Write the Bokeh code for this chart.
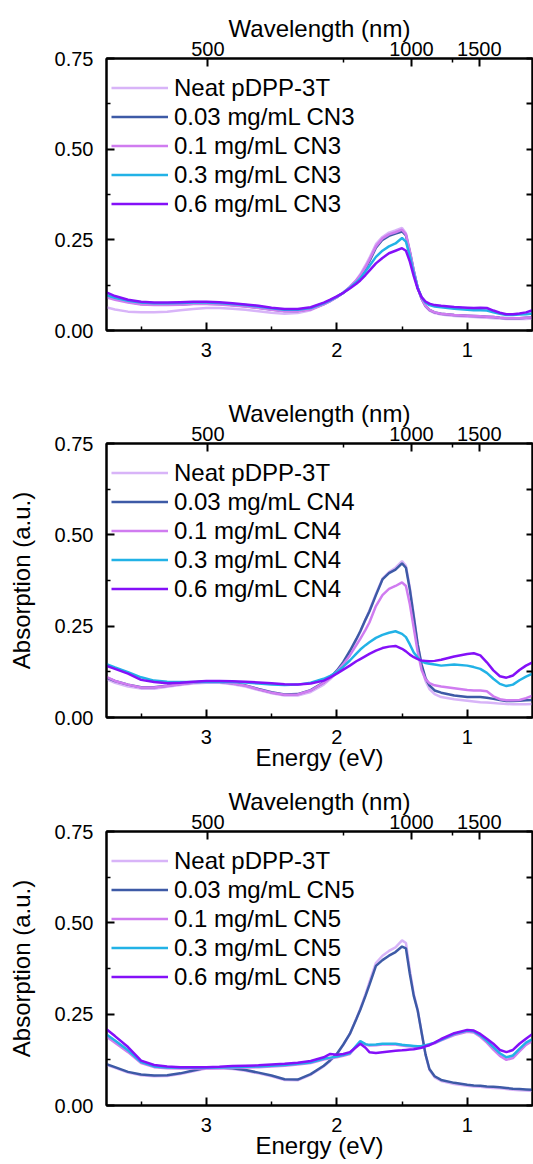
from bokeh.plotting import figure
from bokeh.layouts import column
from bokeh.models import Range1d, LinearAxis, FixedTicker, NumeralTickFormatter, Legend, LegendItem
from bokeh.embed import file_html
from bokeh.resources import INLINE

# ---------------- data ----------------
energy = [3.77, 3.7, 3.6, 3.5, 3.4, 3.3, 3.2, 3.1, 3.0,
          2.9, 2.8, 2.7, 2.6, 2.5, 2.4, 2.3, 2.2, 2.1,
          2.05, 2.0, 1.95, 1.9, 1.85, 1.82, 1.78, 1.75, 1.7,
          1.65, 1.6, 1.55, 1.5, 1.47, 1.44, 1.41, 1.38, 1.35,
          1.32, 1.29, 1.25, 1.2, 1.1, 1.0, 0.95, 0.9, 0.85,
          0.8, 0.75, 0.7, 0.65, 0.6, 0.55, 0.5]

labels_template = ["Neat pDPP-3T", "0.03 mg/mL {}", "0.1 mg/mL {}", "0.3 mg/mL {}", "0.6 mg/mL {}"]
additives = ["CN3", "CN4", "CN5"]
colors = ["#D8B4F8", "#3D5AA6", "#D07CF0", "#22B2E6", "#8410F8"]

cn3_neat = [0.064, 0.058, 0.052, 0.050, 0.050, 0.052, 0.056, 0.059, 0.062,
            0.062, 0.060, 0.057, 0.053, 0.049, 0.046, 0.048, 0.056, 0.072,
            0.081, 0.092, 0.104, 0.120, 0.140, 0.155, 0.180, 0.200, 0.238,
            0.258, 0.270, 0.276, 0.283, 0.268, 0.220, 0.165, 0.118, 0.088,
            0.066, 0.055, 0.048, 0.044, 0.040, 0.038, 0.037, 0.036, 0.035,
            0.034, 0.033, 0.032, 0.032, 0.032, 0.032, 0.033]
cn3_003 = [0.096, 0.088, 0.079, 0.073, 0.071, 0.071, 0.072, 0.074, 0.074,
           0.073, 0.070, 0.067, 0.063, 0.058, 0.054, 0.054, 0.059, 0.073,
           0.082, 0.092, 0.104, 0.119, 0.137, 0.150, 0.172, 0.191, 0.228,
           0.250, 0.261, 0.267, 0.273, 0.262, 0.216, 0.164, 0.118, 0.088,
           0.068, 0.057, 0.050, 0.046, 0.043, 0.041, 0.040, 0.039, 0.038,
           0.037, 0.035, 0.034, 0.034, 0.034, 0.035, 0.036]
cn3_01 = [0.092, 0.085, 0.077, 0.072, 0.070, 0.070, 0.071, 0.073, 0.073,
          0.072, 0.069, 0.066, 0.062, 0.057, 0.053, 0.053, 0.058, 0.072,
          0.081, 0.092, 0.104, 0.120, 0.138, 0.152, 0.175, 0.195, 0.232,
          0.254, 0.265, 0.271, 0.278, 0.265, 0.218, 0.165, 0.118, 0.088,
          0.068, 0.057, 0.050, 0.046, 0.043, 0.041, 0.040, 0.039, 0.038,
          0.037, 0.035, 0.034, 0.034, 0.034, 0.035, 0.036]
cn3_03 = [0.098, 0.090, 0.082, 0.077, 0.075, 0.075, 0.076, 0.077, 0.077,
          0.076, 0.073, 0.070, 0.066, 0.061, 0.057, 0.057, 0.062, 0.075,
          0.083, 0.093, 0.104, 0.118, 0.133, 0.144, 0.163, 0.178, 0.203,
          0.220, 0.232, 0.240, 0.255, 0.245, 0.205, 0.158, 0.118, 0.092,
          0.077, 0.070, 0.066, 0.064, 0.060, 0.057, 0.056, 0.056, 0.055,
          0.050, 0.046, 0.043, 0.043, 0.044, 0.045, 0.047]
cn3_06 = [0.106, 0.095, 0.085, 0.079, 0.077, 0.077, 0.078, 0.079, 0.079,
          0.078, 0.075, 0.072, 0.068, 0.063, 0.059, 0.059, 0.064, 0.077,
          0.085, 0.094, 0.104, 0.116, 0.129, 0.138, 0.153, 0.165, 0.185,
          0.200, 0.213, 0.220, 0.227, 0.220, 0.190, 0.150, 0.115, 0.092,
          0.080, 0.074, 0.070, 0.068, 0.065, 0.063, 0.062, 0.063, 0.062,
          0.055, 0.049, 0.045, 0.045, 0.047, 0.050, 0.056]

cn4_neat = [0.106, 0.095, 0.085, 0.079, 0.079, 0.084, 0.089, 0.093, 0.095,
            0.095, 0.091, 0.085, 0.075, 0.066, 0.060, 0.060, 0.070, 0.090,
            0.105, 0.122, 0.146, 0.176, 0.212, 0.234, 0.268, 0.293, 0.338,
            0.380, 0.398, 0.410, 0.428, 0.415, 0.355, 0.280, 0.200, 0.140,
            0.100, 0.078, 0.064, 0.056, 0.050, 0.046, 0.044, 0.042, 0.041,
            0.040, 0.038, 0.037, 0.036, 0.036, 0.036, 0.037]
cn4_003 = [0.110, 0.100, 0.090, 0.083, 0.083, 0.087, 0.092, 0.096, 0.099,
           0.098, 0.094, 0.088, 0.078, 0.069, 0.063, 0.064, 0.075, 0.096,
           0.110, 0.128, 0.152, 0.182, 0.215, 0.236, 0.268, 0.290, 0.335,
           0.378, 0.395, 0.405, 0.422, 0.410, 0.350, 0.275, 0.200, 0.145,
           0.108, 0.088, 0.074, 0.068, 0.060, 0.056, 0.056, 0.056, 0.054,
           0.051, 0.048, 0.045, 0.045, 0.046, 0.047, 0.048]
cn4_01 = [0.112, 0.100, 0.090, 0.082, 0.082, 0.086, 0.091, 0.095, 0.098,
          0.097, 0.093, 0.087, 0.077, 0.068, 0.062, 0.063, 0.074, 0.095,
          0.108, 0.125, 0.146, 0.170, 0.198, 0.215, 0.240, 0.260, 0.305,
          0.335, 0.352, 0.360, 0.370, 0.360, 0.310, 0.245, 0.180, 0.130,
          0.105, 0.094, 0.088, 0.085, 0.080, 0.075, 0.074, 0.074, 0.072,
          0.058, 0.050, 0.047, 0.047, 0.048, 0.053, 0.060]
cn4_03 = [0.147, 0.137, 0.124, 0.110, 0.101, 0.098, 0.097, 0.097, 0.097,
          0.097, 0.097, 0.096, 0.093, 0.090, 0.089, 0.090, 0.095, 0.106,
          0.114, 0.124, 0.139, 0.156, 0.175, 0.186, 0.198, 0.206, 0.218,
          0.226, 0.232, 0.236, 0.229, 0.220, 0.200, 0.178, 0.164, 0.154,
          0.149, 0.147, 0.145, 0.142, 0.145, 0.142, 0.138, 0.133, 0.122,
          0.106, 0.092, 0.086, 0.090, 0.102, 0.112, 0.120]
cn4_06 = [0.142, 0.133, 0.120, 0.103, 0.097, 0.094, 0.095, 0.098, 0.100,
          0.100, 0.099, 0.098, 0.096, 0.094, 0.091, 0.090, 0.093, 0.101,
          0.110, 0.120, 0.131, 0.142, 0.154, 0.160, 0.168, 0.174, 0.183,
          0.190, 0.194, 0.196, 0.188, 0.181, 0.172, 0.165, 0.160, 0.156,
          0.155, 0.154, 0.155, 0.158, 0.167, 0.174, 0.176, 0.170, 0.151,
          0.129, 0.113, 0.109, 0.115, 0.130, 0.142, 0.151]

cn5_neat = [0.112, 0.103, 0.090, 0.083, 0.080, 0.081, 0.086, 0.094, 0.101,
            0.102, 0.100, 0.095, 0.088, 0.080, 0.070, 0.069, 0.084, 0.107,
            0.122, 0.140, 0.166, 0.196, 0.238, 0.265, 0.305, 0.338, 0.390,
            0.410, 0.423, 0.433, 0.452, 0.445, 0.370, 0.305, 0.262, 0.200,
            0.140, 0.098, 0.077, 0.067, 0.059, 0.054, 0.052, 0.051, 0.049,
            0.048, 0.047, 0.045, 0.043, 0.042, 0.041, 0.040]
cn5_003 = [0.114, 0.105, 0.092, 0.085, 0.082, 0.083, 0.088, 0.096, 0.103,
           0.104, 0.102, 0.097, 0.090, 0.082, 0.072, 0.071, 0.086, 0.109,
           0.124, 0.141, 0.167, 0.196, 0.237, 0.262, 0.300, 0.330, 0.382,
           0.398, 0.410, 0.420, 0.435, 0.430, 0.360, 0.300, 0.260, 0.200,
           0.140, 0.100, 0.080, 0.070, 0.062, 0.057, 0.055, 0.054, 0.052,
           0.051, 0.050, 0.048, 0.046, 0.045, 0.044, 0.043]
cn5_01 = [0.190, 0.172, 0.146, 0.116, 0.105, 0.102, 0.101, 0.101, 0.101,
          0.102, 0.103, 0.104, 0.105, 0.107, 0.109, 0.112, 0.116, 0.126,
          0.129, 0.132, 0.136, 0.141, 0.162, 0.174, 0.167, 0.164, 0.165,
          0.167, 0.167, 0.167, 0.164, 0.163, 0.162, 0.161, 0.160, 0.161,
          0.163, 0.166, 0.170, 0.178, 0.193, 0.202, 0.200, 0.188, 0.172,
          0.153, 0.136, 0.125, 0.130, 0.148, 0.166, 0.177]
cn5_03 = [0.196, 0.178, 0.151, 0.119, 0.107, 0.104, 0.103, 0.103, 0.103,
          0.104, 0.105, 0.106, 0.107, 0.109, 0.111, 0.114, 0.118, 0.128,
          0.131, 0.134, 0.138, 0.143, 0.164, 0.176, 0.168, 0.166, 0.167,
          0.169, 0.169, 0.169, 0.166, 0.165, 0.164, 0.163, 0.162, 0.163,
          0.165, 0.168, 0.172, 0.180, 0.196, 0.205, 0.203, 0.192, 0.177,
          0.160, 0.143, 0.132, 0.137, 0.155, 0.172, 0.182]
cn5_06 = [0.210, 0.190, 0.160, 0.123, 0.111, 0.107, 0.105, 0.105, 0.105,
          0.106, 0.108, 0.109, 0.110, 0.112, 0.114, 0.117, 0.122, 0.132,
          0.141, 0.139, 0.141, 0.146, 0.160, 0.169, 0.158, 0.146, 0.144,
          0.146, 0.148, 0.150, 0.151, 0.152, 0.153, 0.154, 0.156, 0.158,
          0.162, 0.165, 0.172, 0.182, 0.198, 0.207, 0.205, 0.196, 0.183,
          0.169, 0.152, 0.146, 0.152, 0.169, 0.183, 0.196]

wl_major = [500, 1000, 1500]
wl_minor = [750, 1250]
energy_major = [1, 2, 3]
energy_minor = [1.5, 2.5, 3.5]
abs_major = [0.0, 0.25, 0.5, 0.75]
abs_minor = [0.125, 0.375, 0.625]

FONT = "Liberation Sans"


def wl_pos(w):
    # position of a wavelength tick on the (energy) x scale, as drawn in the source
    return round(1560.0 / w - 0.132, 3)


def style_axis(ax):
    ax.axis_line_width = 2
    ax.axis_line_color = "black"
    ax.major_tick_line_width = 2
    ax.minor_tick_line_width = 1.5
    ax.major_tick_out = 0
    ax.major_tick_in = 8
    ax.minor_tick_out = 0
    ax.minor_tick_in = 4
    ax.major_label_text_font = FONT
    ax.major_label_text_color = "black"
    ax.major_label_text_font_size = "20px"
    ax.axis_label_text_font = FONT
    ax.axis_label_text_font_style = "normal"
    ax.axis_label_text_font_size = "24px"
    ax.axis_label_text_color = "black"


def make_panel(series, additive, height, top, bottom, xlabel, ylabel):
    p = figure(width=533, height=height, x_range=Range1d(3.765, 0.5), y_range=Range1d(0, 0.75),
               output_backend="svg", toolbar_location=None,
               min_border_left=106, min_border_right=1, min_border_top=top, min_border_bottom=bottom)
    p.xgrid.visible = False
    p.ygrid.visible = False
    p.outline_line_color = "black"
    p.outline_line_width = 2
    p.background_fill_color = "white"

    xb = p.xaxis[0]
    xb.ticker = FixedTicker(ticks=energy_major, minor_ticks=energy_minor)
    style_axis(xb)
    xb.major_label_standoff = 12
    xb.axis_label_standoff = -3
    if xlabel:
        xb.axis_label = xlabel

    yl = p.yaxis[0]
    yl.ticker = FixedTicker(ticks=abs_major, minor_ticks=abs_minor)
    yl.formatter = NumeralTickFormatter(format="0.00")
    style_axis(yl)
    yl.major_label_standoff = 13
    yl.axis_label_standoff = 17
    if ylabel:
        yl.axis_label = ylabel

    # right frame side: tick marks only (drawn as minor ticks, so no labels)
    yr = LinearAxis(ticker=FixedTicker(ticks=[], minor_ticks=abs_major + abs_minor))
    style_axis(yr)
    yr.minor_tick_in = 6
    yr.minor_tick_line_width = 2
    yr.major_label_standoff = 0
    p.add_layout(yr, "right")

    xt = LinearAxis(ticker=FixedTicker(ticks=[wl_pos(w) for w in wl_major],
                                       minor_ticks=[wl_pos(w) for w in wl_minor]),
                    major_label_overrides={wl_pos(w): str(w) for w in wl_major},
                    axis_label="Wavelength (nm)")
    style_axis(xt)
    xt.major_label_standoff = 3
    xt.axis_label_standoff = -3
    p.add_layout(xt, "above")

    items = []
    for vals, col, lab in zip(series, colors, labels_template):
        r = p.line(energy, vals, line_color=col, line_width=2.5)
        items.append(LegendItem(label=lab.format(additive), renderers=[r]))

    frame_h = height - top - bottom
    leg = Legend(items=items, location=(5, frame_h - 15 - 5 * 29))
    leg.padding = 0
    leg.margin = 0
    leg.spacing = 0
    leg.label_height = 29
    leg.glyph_height = 29
    leg.glyph_width = 57
    leg.label_standoff = 6
    leg.label_text_font = FONT
    leg.label_text_font_size = "24px"
    leg.label_text_color = "black"
    leg.background_fill_alpha = 0
    leg.border_line_alpha = 0
    p.add_layout(leg)
    return p


p1 = make_panel([cn3_neat, cn3_003, cn3_01, cn3_03, cn3_06], additives[0], 385, 58, 55, None, None)
p2 = make_panel([cn4_neat, cn4_003, cn4_01, cn4_03, cn4_06], additives[1], 392, 58, 60,
                "Energy (eV)", "Absorption (a.u.)")
p3 = make_panel([cn5_neat, cn5_003, cn5_01, cn5_03, cn5_06], additives[2], 387, 54, 59,
                "Energy (eV)", "Absorption (a.u.)")

layout = column(p1, p2, p3, spacing=0)
open("out.html", "w").write(file_html(layout, INLINE))
